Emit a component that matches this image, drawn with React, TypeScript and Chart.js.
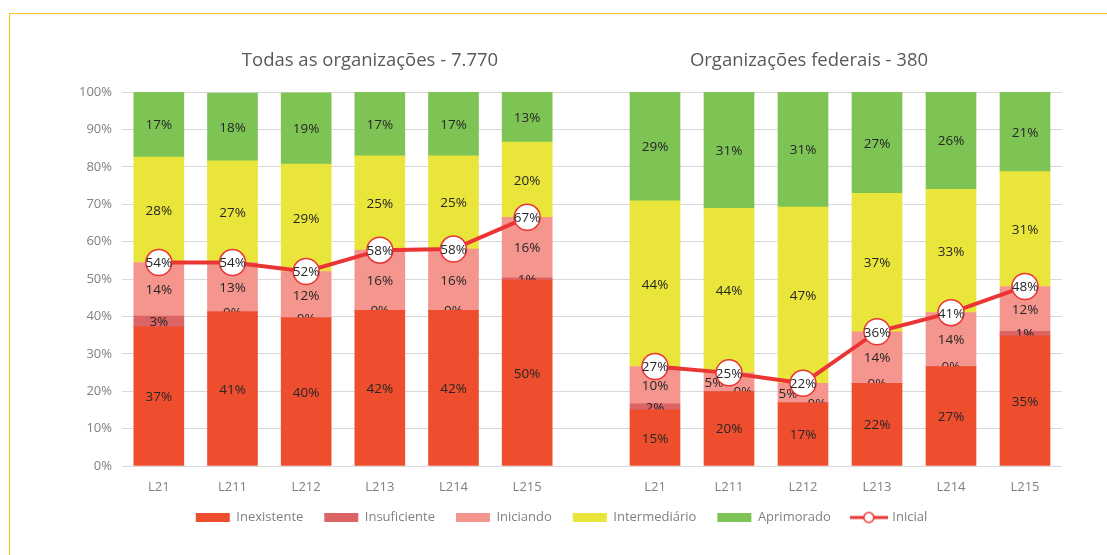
import React, { useEffect, useRef } from 'react';
import { Chart, registerables } from 'chart.js';

Chart.register(...registerables);

// ---------- data ----------
const categories = ['L21', 'L211', 'L212', 'L213', 'L214', 'L215'];
const seriesNames = ['Inexistente', 'Insuficiente', 'Iniciando', 'Intermediário', 'Aprimorado'];
const lineName = 'Inicial';
const titleAll = 'Todas as organizações - 7.770';
const titleFed = 'Organizações federais - 380';
const yTickValues = [0, 10, 20, 30, 40, 50, 60, 70, 80, 90, 100];

// Todas as organizações
const allInexistente = [37.2, 41.2, 39.6, 41.6, 41.6, 49.7];
const allInsuficiente = [2.9, 0, 0, 0, 0, 0.6];
const allIniciando = [14.3, 13.2, 12.4, 16.1, 16.4, 16.2];
const allIntermediario = [28.2, 27.2, 28.7, 25.2, 24.9, 20.1];
const allAprimorado = [17.4, 18.1, 19.1, 17.1, 17.1, 13.4];
const allInicial = [54.4, 54.4, 52.0, 57.7, 58.0, 66.5];

// Organizações federais
const fedInexistente = [15.0, 19.9, 16.9, 22.1, 26.6, 34.8];
const fedInsuficiente = [1.6, 0, 0, 0, 0, 1.2];
const fedIniciando = [10.0, 5.0, 5.2, 13.8, 14.4, 12.0];
const fedIntermediario = [44.3, 44.0, 47.1, 37.0, 33.0, 30.7];
const fedAprimorado = [29.1, 31.1, 30.8, 27.1, 26.0, 21.3];
const fedInicial = [26.6, 24.9, 22.1, 35.9, 41.0, 48.0];

// ---------- styles ----------
const FONT = "'Open Sans', 'Noto Sans', sans-serif";
const BAR_COLORS = ['#ef4e2e', '#dd6464', '#f4958e', '#e9e53a', '#7ec455'];
const LINE_COLOR = '#eb3434';
const GRID = '#d9d9d9';
const AXIS_TEXT = '#808080';
const LABEL_TEXT = '#262626';
const TITLE_TEXT = '#595959';
const FRAME = '#fcc419';
const W = 1091;
const H = 539;

function makeLineIcon() {
  const c = document.createElement('canvas');
  c.width = 38;
  c.height = 14;
  const g = c.getContext('2d') as CanvasRenderingContext2D;
  g.strokeStyle = LINE_COLOR;
  g.lineWidth = 3;
  g.beginPath();
  g.moveTo(0, 7);
  g.lineTo(38, 7);
  g.stroke();
  g.beginPath();
  g.arc(19, 7, 5, 0, Math.PI * 2);
  g.fillStyle = '#ffffff';
  g.fill();
  g.lineWidth = 1.5;
  g.stroke();
  return c;
}

function buildConfig(p: any) {
  const bars = seriesNames.map((name, i) => ({
    type: 'bar',
    label: name,
    data: p.values[i],
    backgroundColor: BAR_COLORS[i],
    borderWidth: 0,
    barThickness: 50,
    stack: 'bars',
    order: 1,
  }));
  const line = {
    type: 'line',
    label: lineName,
    data: p.inicial,
    borderColor: LINE_COLOR,
    borderWidth: 4,
    pointRadius: 13,
    pointHoverRadius: 13,
    pointBackgroundColor: '#ffffff',
    pointBorderColor: LINE_COLOR,
    pointBorderWidth: 1.5,
    tension: 0,
    fill: false,
    stack: 'line',
    order: 0,
  };

  const labelsPlugin = {
    id: 'segLabels' + p.key,
    afterDatasetDraw(chart: any, args: any) {
      const ds = chart.data.datasets[args.index];
      if (ds.type !== 'bar') return;
      const ctx = chart.ctx;
      ctx.save();
      ctx.font = `13.5px ${FONT}`;
      ctx.fillStyle = LABEL_TEXT;
      ctx.textAlign = 'center';
      ctx.textBaseline = 'middle';
      args.meta.data.forEach((el: any, i: number) => {
        const pr = el.getProps(['x', 'y', 'base'], true);
        const sh = (p.shifts[args.index] && p.shifts[args.index][i]) || 0;
        ctx.fillText(Math.round(ds.data[i]) + '%', pr.x + sh, (pr.y + pr.base) / 2 + 1);
      });
      ctx.restore();
    },
    afterDatasetsDraw(chart: any) {
      const ctx = chart.ctx;
      const idx = chart.data.datasets.length - 1;
      const meta = chart.getDatasetMeta(idx);
      ctx.save();
      ctx.font = `13.5px ${FONT}`;
      ctx.fillStyle = LABEL_TEXT;
      ctx.textAlign = 'center';
      ctx.textBaseline = 'middle';
      meta.data.forEach((el: any, i: number) => {
        const pr = el.getProps(['x', 'y'], true);
        ctx.fillText(Math.round(chart.data.datasets[idx].data[i]) + '%', pr.x, pr.y + 1);
      });
      ctx.restore();
    },
    afterDraw(chart: any) {
      const ctx = chart.ctx;
      ctx.save();
      ctx.font = `18.5px ${FONT}`;
      ctx.fillStyle = TITLE_TEXT;
      ctx.textAlign = 'center';
      ctx.textBaseline = 'middle';
      ctx.fillText(p.title, p.titleX, 53);
      ctx.restore();
    },
  };

  const yScale: any = {
    type: 'linear',
    position: 'left',
    stacked: true,
    min: 0,
    max: 100,
    afterBuildTicks: (s: any) => {
      s.ticks = yTickValues.map((v) => ({ value: v }));
    },
    ticks: {
      display: p.showY,
      callback: (v: any) => v + '%',
      color: AXIS_TEXT,
      font: { size: 13 },
      padding: 10,
    },
    grid: {
      color: GRID,
      lineWidth: 1,
      drawTicks: !p.showY,
      tickLength: p.gapTick,
      tickColor: GRID,
    },
    border: { display: false },
    afterFit: (s: any) => {
      s.width = p.yWidth;
    },
  };

  const scales: any = {
    x: {
      type: 'category',
      labels: categories,
      stacked: true,
      grid: { display: false },
      border: { display: false },
      ticks: { color: AXIS_TEXT, font: { size: 13 }, padding: 5, maxRotation: 0 },
      afterFit: (s: any) => {
        s.height = 40;
      },
    },
    y: yScale,
  };
  if (p.padAxis) {
    scales.pad = {
      type: 'linear',
      position: 'right',
      display: true,
      grid: { display: false },
      ticks: { display: false },
      border: { display: false },
      afterFit: (s: any) => {
        s.width = p.padAxis;
      },
    };
  }

  return {
    type: 'bar',
    data: { labels: categories, datasets: [...bars, line] },
    options: {
      responsive: false,
      animation: false,
      events: [],
      layout: { padding: p.padding },
      scales,
      plugins: {
        title: { display: false },
        tooltip: { enabled: false },
        legend: { display: false },
      },
    },
    plugins: [labelsPlugin],
  } as any;
}

function buildLegendConfig(icon: HTMLCanvasElement) {
  const datasets: any[] = seriesNames.map((name, i) => ({
    type: 'bar',
    label: name,
    data: [],
    backgroundColor: BAR_COLORS[i],
    borderWidth: 0,
  }));
  datasets.push({ type: 'line', label: lineName, data: [], borderColor: LINE_COLOR, backgroundColor: '#ffffff' });
  return {
    type: 'bar',
    data: { labels: [], datasets },
    options: {
      responsive: false,
      animation: false,
      events: [],
      layout: { padding: { left: 16, right: 0, top: 0, bottom: 0 } },
      scales: { x: { display: false }, y: { display: false } },
      plugins: {
        title: { display: false },
        tooltip: { enabled: false },
        legend: {
          display: true,
          position: 'top',
          maxHeight: 56,
          labels: {
            usePointStyle: true,
            pointStyleWidth: 34,
            boxHeight: 9,
            padding: 21,
            color: AXIS_TEXT,
            font: { size: 13 },
            generateLabels: (chart: any) => {
              const items = (Chart as any).defaults.plugins.legend.labels.generateLabels(chart);
              items.forEach((it: any) => {
                if (it.datasetIndex === seriesNames.length) {
                  it.pointStyle = icon;
                } else {
                  it.pointStyle = 'rect';
                }
                it.lineWidth = 0;
              });
              return items;
            },
          },
        },
      },
    },
  } as any;
}

export default function App() {
  const leftRef = useRef<HTMLCanvasElement>(null);
  const rightRef = useRef<HTMLCanvasElement>(null);
  const legendRef = useRef<HTMLCanvasElement>(null);

  useEffect(() => {
    document.documentElement.style.overflow = 'hidden';
    document.body.style.overflow = 'hidden';
    (Chart as any).defaults.font.family = FONT;
    const icon = makeLineIcon();
    const left = new Chart(
      leftRef.current as HTMLCanvasElement,
      buildConfig({
        key: 'L',
        values: [allInexistente, allInsuficiente, allIniciando, allIntermediario, allAprimorado],
        inicial: allInicial,
        title: titleAll,
        titleX: 362,
        showY: true,
        gapTick: 0,
        yWidth: 114,
        padAxis: 535,
        padding: { top: 84, left: 0, right: 0, bottom: 41 },
        shifts: {},
      })
    );
    const right = new Chart(
      rightRef.current as HTMLCanvasElement,
      buildConfig({
        key: 'R',
        values: [fedInexistente, fedInsuficiente, fedIniciando, fedIntermediario, fedAprimorado],
        inicial: fedInicial,
        title: titleFed,
        titleX: 801,
        showY: false,
        gapTick: 54,
        yWidth: 610,
        padAxis: 0,
        padding: { top: 84, left: 0, right: 37, bottom: 41 },
        shifts: { 1: [0, 14, 14, 0, 0, 0], 2: [0, -15, -15, 0, 0, 0] },
      })
    );
    const legend = new Chart(legendRef.current as HTMLCanvasElement, buildLegendConfig(icon));
    return () => {
      left.destroy();
      right.destroy();
      legend.destroy();
    };
  }, []);

  return (
    <div style={{ position: 'relative', width: W, height: H, background: '#ffffff' }}>
      <div
        style={{
          position: 'fixed',
          left: 9,
          top: 13,
          right: 0,
          bottom: 0,
          borderTop: `1px solid ${FRAME}`,
          borderLeft: `1px solid ${FRAME}`,
          pointerEvents: 'none',
        }}
      />
      <canvas ref={leftRef} width={W} height={H} style={{ position: 'absolute', left: 0, top: 0 }} />
      <canvas ref={rightRef} width={W} height={H} style={{ position: 'absolute', left: 0, top: 0 }} />
      <canvas ref={legendRef} width={W} height={56} style={{ position: 'absolute', left: 0, top: 482 }} />
    </div>
  );
}
